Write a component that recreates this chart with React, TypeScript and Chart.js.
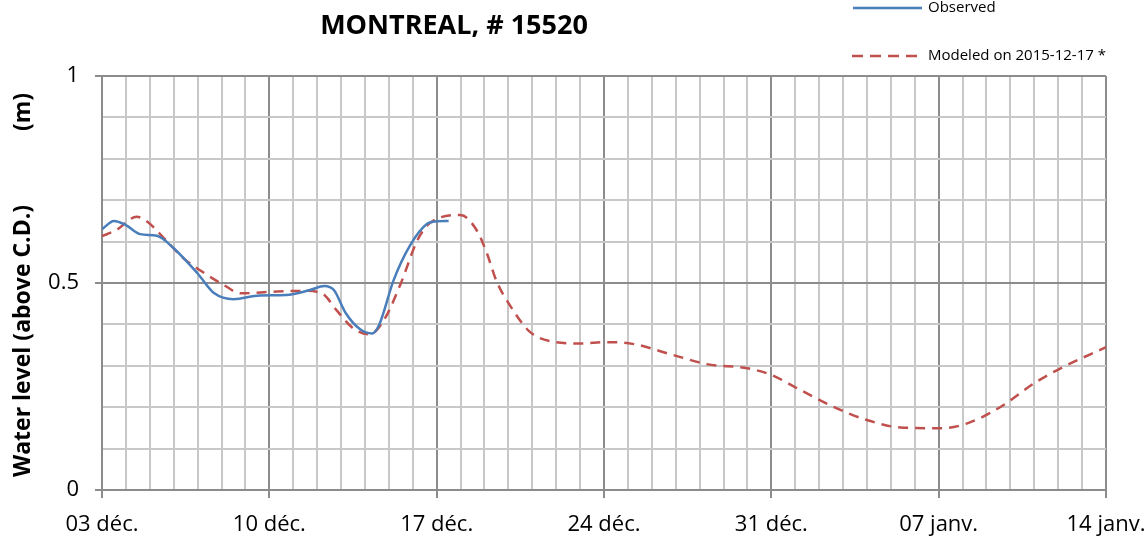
import { useEffect, useRef } from 'react';
import { Chart, registerables } from 'chart.js';

Chart.register(...registerables);

const FONT = '"Open Sans", "DejaVu Sans", sans-serif';

const chartTitle = 'MONTREAL, # 15520';
const yAxisTitle = 'Water level (above C.D.)';
const yAxisUnit = '(m)';
const observedLabel = 'Observed';
const modeledLabel = 'Modeled on 2015-12-17 *';

// x: days since 03 déc. 2015
const weekTickLabels = ['03 déc.', '10 déc.', '17 déc.', '24 déc.', '31 déc.', '07 janv.', '14 janv.'];
const yTickLabels = ['0', '0.5', '1'];

const observedDays = [0, 0.5, 1.0, 1.6, 2.3, 3.0, 4.0, 4.7, 5.5, 6.6, 7.7, 8.7, 9.3, 9.7, 10.2, 10.8, 11.3, 11.6, 12.2, 12.9, 13.6, 14.0, 14.5];
const observedLevels = [0.630, 0.650, 0.640, 0.618, 0.614, 0.584, 0.523, 0.475, 0.461, 0.470, 0.471, 0.483, 0.493, 0.483, 0.427, 0.388, 0.378, 0.400, 0.507, 0.592, 0.643, 0.649, 0.650];

const modeledDays = [0, 0.6, 1.45, 1.9, 2.6, 3.4, 4.2, 5.1, 5.8, 7.2, 8.5, 9.25, 9.8, 10.5, 11.2, 11.8, 12.5, 13.2, 13.7, 15.0, 15.7, 16.1, 16.5, 17.1, 17.9, 18.9, 20.0, 21.1, 22.2, 23.9, 25.3, 27.0, 28.0, 29.2, 30.6, 32.0, 33.4, 35.1, 36.2, 37.6, 39.0, 40.1, 42.0];
const modeledLevels = [0.613, 0.628, 0.660, 0.648, 0.608, 0.560, 0.527, 0.495, 0.475, 0.479, 0.481, 0.473, 0.435, 0.391, 0.376, 0.411, 0.499, 0.604, 0.644, 0.664, 0.625, 0.572, 0.505, 0.443, 0.382, 0.358, 0.354, 0.357, 0.353, 0.326, 0.304, 0.294, 0.278, 0.242, 0.201, 0.169, 0.151, 0.149, 0.161, 0.201, 0.258, 0.294, 0.345];

const BLUE = '#4a7ebb';
const RED = '#c0504d';
const GRID_MAJOR = '#8c8c8c';
const GRID_MINOR = '#c8c8c8';

const isWeek = (v: number) => Math.abs(v / 7 - Math.round(v / 7)) < 1e-6;
const isHalf = (v: number) => Math.abs(v * 2 - Math.round(v * 2)) < 1e-6;

const decorPlugin = {
  id: 'decor',
  afterDraw(chart: any) {
    const ctx = chart.ctx as CanvasRenderingContext2D;
    ctx.save();
    // Title
    ctx.fillStyle = '#000';
    ctx.font = `bold 27px ${FONT}`;
    ctx.textAlign = 'center';
    ctx.textBaseline = 'middle';
    ctx.fillText(chartTitle, 454, 26);

    // Legend
    ctx.font = `15px ${FONT}`;
    ctx.textAlign = 'left';
    ctx.lineWidth = 2.5;
    ctx.strokeStyle = BLUE;
    ctx.setLineDash([]);
    ctx.beginPath();
    ctx.moveTo(853, 8);
    ctx.lineTo(922, 8);
    ctx.stroke();
    ctx.fillText(observedLabel, 928, 8);
    ctx.strokeStyle = RED;
    ctx.setLineDash([11, 7]);
    ctx.beginPath();
    ctx.moveTo(852, 56);
    ctx.lineTo(918, 56);
    ctx.stroke();
    ctx.setLineDash([]);
    ctx.fillText(modeledLabel, 928, 56);

    // Y axis title
    ctx.font = `bold 23px ${FONT}`;
    ctx.textAlign = 'center';
    ctx.translate(23, 0);
    ctx.rotate(-Math.PI / 2);
    ctx.fillText(yAxisTitle, -341, 0);
    ctx.fillText(yAxisUnit, -112, 0);
    ctx.restore();
  },
};

export default function App() {
  const ref = useRef<HTMLCanvasElement>(null);
  useEffect(() => {
    const observed = observedDays.map((d, i) => ({ x: d, y: observedLevels[i] }));
    const modeled = modeledDays.map((d, i) => ({ x: d, y: modeledLevels[i] }));
    const chart = new Chart(ref.current as HTMLCanvasElement, {
      type: 'line',
      data: {
        datasets: [
          {
            label: observedLabel,
            data: observed,
            borderColor: BLUE,
            borderWidth: 2.5,
            pointRadius: 0,
            cubicInterpolationMode: 'monotone',
            fill: false,
          },
          {
            label: modeledLabel,
            data: modeled,
            borderColor: RED,
            borderWidth: 2.5,
            borderDash: [10, 7],
            pointRadius: 0,
            cubicInterpolationMode: 'monotone',
            fill: false,
          },
        ],
      },
      options: {
        responsive: false,
        animation: false,
        devicePixelRatio: 1,
        layout: { padding: { left: 0, top: 76, right: 42, bottom: 0 } },
        plugins: {
          legend: { display: false },
          title: { display: false },
          tooltip: { enabled: false },
        },
        scales: {
          x: {
            type: 'linear',
            min: 0,
            max: 42,
            afterFit: (s: any) => {
              s.height = 53;
              s.paddingLeft = 0;
              s.paddingRight = 0;
            },
            ticks: {
              stepSize: 1,
              autoSkip: false,
              maxRotation: 0,
              padding: 14,
              color: '#000',
              font: { family: FONT, size: 22 },
              callback: (v: any) => (isWeek(Number(v)) ? weekTickLabels[Math.round(Number(v) / 7)] : ''),
            },
            grid: {
              color: (c: any) => (isWeek(c.tick.value) ? GRID_MAJOR : GRID_MINOR),
              lineWidth: 2,
              tickLength: 8,
              tickColor: (c: any) => (isWeek(c.tick.value) ? GRID_MAJOR : 'rgba(0,0,0,0)'),
              tickWidth: 2,
            },
            border: { display: true, color: GRID_MAJOR, width: 2 },
          },
          y: {
            type: 'linear',
            min: 0,
            max: 1,
            afterFit: (s: any) => {
              s.width = 102;
              s.paddingTop = 0;
              s.paddingBottom = 0;
            },
            ticks: {
              stepSize: 0.1,
              autoSkip: false,
              padding: 16,
              color: '#000',
              font: { family: FONT, size: 22 },
              callback: (v: any) => {
                const n = Number(v);
                if (!isHalf(n)) return '';
                return yTickLabels[Math.round(n * 2)];
              },
            },
            grid: {
              color: (c: any) => (isHalf(c.tick.value) ? GRID_MAJOR : GRID_MINOR),
              lineWidth: 2,
              tickLength: 7,
              tickColor: (c: any) => (isHalf(c.tick.value) ? GRID_MAJOR : 'rgba(0,0,0,0)'),
              tickWidth: 2,
            },
            border: { display: true, color: GRID_MAJOR, width: 2 },
          },
        },
      },
      plugins: [decorPlugin],
    } as any);
    return () => chart.destroy();
  }, []);
  return (
    <div style={{ position: 'fixed', left: 0, top: 0, width: 1148, height: 543, background: '#fff' }}>
      <canvas ref={ref} width={1148} height={543} style={{ display: 'block', width: 1148, height: 543 }} />
    </div>
  );
}
